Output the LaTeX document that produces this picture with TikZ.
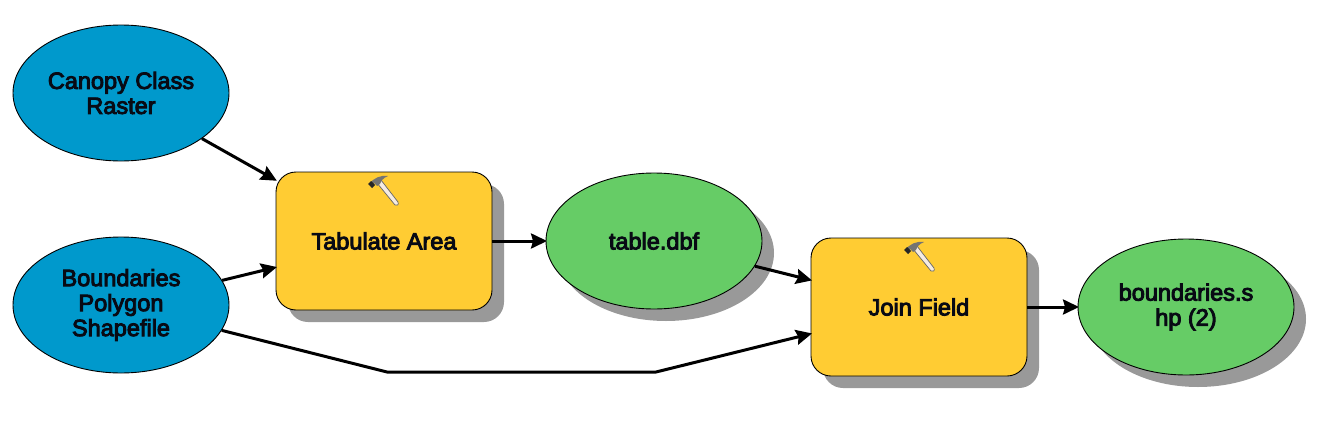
\documentclass[tikz,border=0pt]{standalone}
\usepackage{fontspec}
\setmainfont{Liberation Sans}
\newfontfamily\labelfont[FakeBold=4]{Liberation Sans}
\usetikzlibrary{shapes.geometric,arrows.meta}
\definecolor{inputblue}{RGB}{0,153,204}
\definecolor{outputgreen}{RGB}{102,204,102}
\definecolor{toolyellow}{RGB}{255,204,51}
\definecolor{dropgray}{RGB}{153,153,153}
\definecolor{labelink}{RGB}{8,10,20}
\tikzset{
  x=1pt,y=-1pt,
  base/.style={draw=black,line width=0.9pt,align=center,font=\fontsize{23.5}{25}\labelfont,text=labelink},
  dataset/.style={base,ellipse,minimum width=216pt,minimum height=136pt,inner sep=0pt},
  tool/.style={base,rectangle,rounded corners=20pt,minimum width=216pt,minimum height=138pt,inner sep=0pt,fill=toolyellow},
  flow/.style={line width=3pt,shorten >=-1.5pt,-{Stealth[length=16pt,width=15pt,inset=2pt]}},
  dropshadow/.style={fill=dropgray,draw=none}
}
% Hammer glyph placed with its origin at the upper left of the icon box
\newcommand{\hammericon}[1]{%
  \begin{scope}[shift={#1}]
    \fill[white!85!brown,draw=gray!80!black,line width=0.7pt] (9,8) -- (13,5) -- (30,27) .. controls (31,30) and (29,31) .. (27,30) -- cycle;
    \fill[black!55] (1,9) .. controls (6,3) and (12,0) .. (20,1) .. controls (15,3) and (13,6) .. (12,9) -- (9,11) -- (6,8) -- (4,13) -- cycle;
    \fill[black!85] (0,9) -- (3,6) -- (7,10) -- (4,13) -- cycle;
  \end{scope}}
\begin{document}
\begin{tikzpicture}
\useasboundingbox (0,0) rectangle (1317,442);
% Drop shadows
\fill[dropshadow,rounded corners=20pt] (288,184) rectangle (504,322);
\fill[dropshadow,rounded corners=20pt] (823,250) rectangle (1039,388);
\fill[dropshadow] (666,253) ellipse [x radius=108,y radius=68];
\fill[dropshadow] (1198,319) ellipse [x radius=108,y radius=68];
% Inputs
\node[dataset,fill=inputblue] (canopy) at (121,93) {Canopy Class\\Raster};
\node[dataset,fill=inputblue] (bounds) at (121,305) {Boundaries\\Polygon\\Shapefile};
% Tools
\node[tool] (tabulate) at (384,241) {Tabulate Area};
\node[tool] (join) at (919,307) {Join Field};
% Outputs
\node[dataset,fill=outputgreen] (tabledbf) at (654,241) {table.dbf};
\node[dataset,fill=outputgreen] (shp) at (1186,307) {boundaries.s\\hp (2)};
% Tool icons
\hammericon{(368,175)}
\hammericon{(904,241)}
% Routing points of the long connector
\coordinate (bendA) at (387,372);
\coordinate (bendB) at (656,372);
% Connectors
\draw[flow] (canopy) -- (tabulate);
\draw[flow] (bounds) -- (tabulate);
\draw[flow] (tabulate) -- (tabledbf);
\draw[flow] (tabledbf) -- (join);
\draw[flow] (join) -- (shp);
\draw[flow] (bounds) -- (bendA) -- (bendB) -- (join);
\end{tikzpicture}
\end{document}
